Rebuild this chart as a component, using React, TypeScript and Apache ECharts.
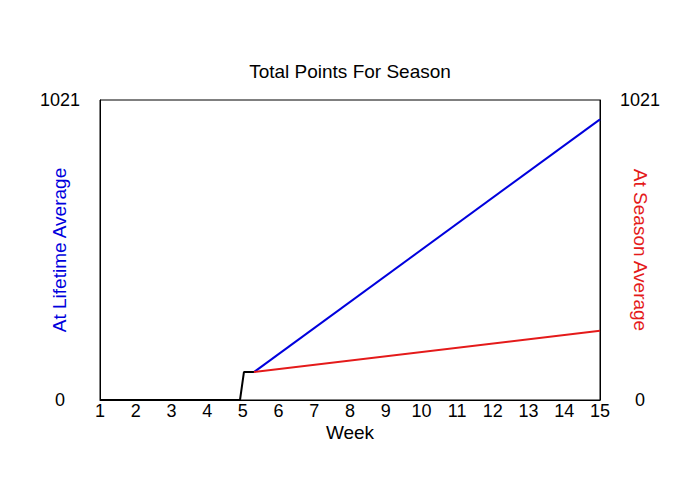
import { useEffect, useRef } from 'react'
import * as echarts from 'echarts'

// weeks (x) and total points (y)
const preSeason = [
  [1, 0],
  [4.92, 0],
  [5.03, 95],
  [5.31, 95],
]
const lifetimeAvg = [
  [5.31, 95],
  [15, 955],
]
const seasonAvg = [
  [5.31, 95],
  [15, 236],
]
const yMax = 1021

const FONT = 'Liberation Sans, Arial, sans-serif'

function App() {
  const chartRef = useRef<HTMLDivElement>(null)

  useEffect(() => {
    document.body.style.margin = '0'
    if (!chartRef.current) return
    const chart = echarts.init(chartRef.current, undefined, { renderer: 'svg' })

    const yAxisBase = {
      type: 'value' as const,
      min: 0,
      max: yMax,
      interval: yMax,
      nameLocation: 'middle' as const,
      nameGap: 31,
      nameMoveOverlap: false,
      axisLine: { show: true, lineStyle: { color: '#000', width: 1 } },
      axisTick: { show: false },
      splitLine: { show: false },
      axisLabel: {
        color: '#000',
        fontSize: 18,
        fontFamily: FONT,
        margin: 40,
        align: 'center' as const,
        formatter: (v: number) => String(v),
      },
    }

    chart.setOption({
      animation: false,
      backgroundColor: '#fff',
      textStyle: { fontFamily: FONT },
      title: {
        text: 'Total Points For Season',
        left: 'center',
        top: 57,
        textStyle: { fontSize: 19, fontWeight: 'normal', color: '#000', fontFamily: FONT },
      },
      grid: { left: 100, right: 100, top: 100, bottom: 100, show: true, borderColor: '#000', borderWidth: 1 },
      xAxis: {
        type: 'value',
        min: 1,
        max: 15,
        interval: 1,
        name: 'Week',
        nameLocation: 'middle',
        nameGap: 23,
        nameMoveOverlap: false,
        nameTextStyle: { fontSize: 19, color: '#000', fontFamily: FONT },
        axisLine: { show: true, lineStyle: { color: '#000', width: 1 } },
        axisTick: { show: false },
        splitLine: { show: false },
        axisLabel: { color: '#000', fontSize: 18, fontFamily: FONT, margin: 2 },
      },
      yAxis: [
        {
          ...yAxisBase,
          position: 'left',
          name: 'At Lifetime Average',
          nameRotate: 90,
          nameTextStyle: { fontSize: 19, color: '#0000dd', fontFamily: FONT },
        },
        {
          ...yAxisBase,
          position: 'right',
          name: 'At Season Average',
          nameRotate: -90,
          nameTextStyle: { fontSize: 19, color: '#e41a1a', fontFamily: FONT },
        },
      ],
      series: [
        {
          type: 'line',
          data: lifetimeAvg,
          yAxisIndex: 0,
          symbol: 'none',
          lineStyle: { color: '#0000dd', width: 2 },
        },
        {
          type: 'line',
          data: seasonAvg,
          yAxisIndex: 1,
          symbol: 'none',
          lineStyle: { color: '#e41a1a', width: 2 },
        },
        {
          type: 'line',
          data: preSeason,
          yAxisIndex: 0,
          symbol: 'none',
          lineStyle: { color: '#000', width: 2 },
        },
      ],
    })

    return () => chart.dispose()
  }, [])

  return <div ref={chartRef} style={{ width: 700, height: 500 }} />
}

export default App
